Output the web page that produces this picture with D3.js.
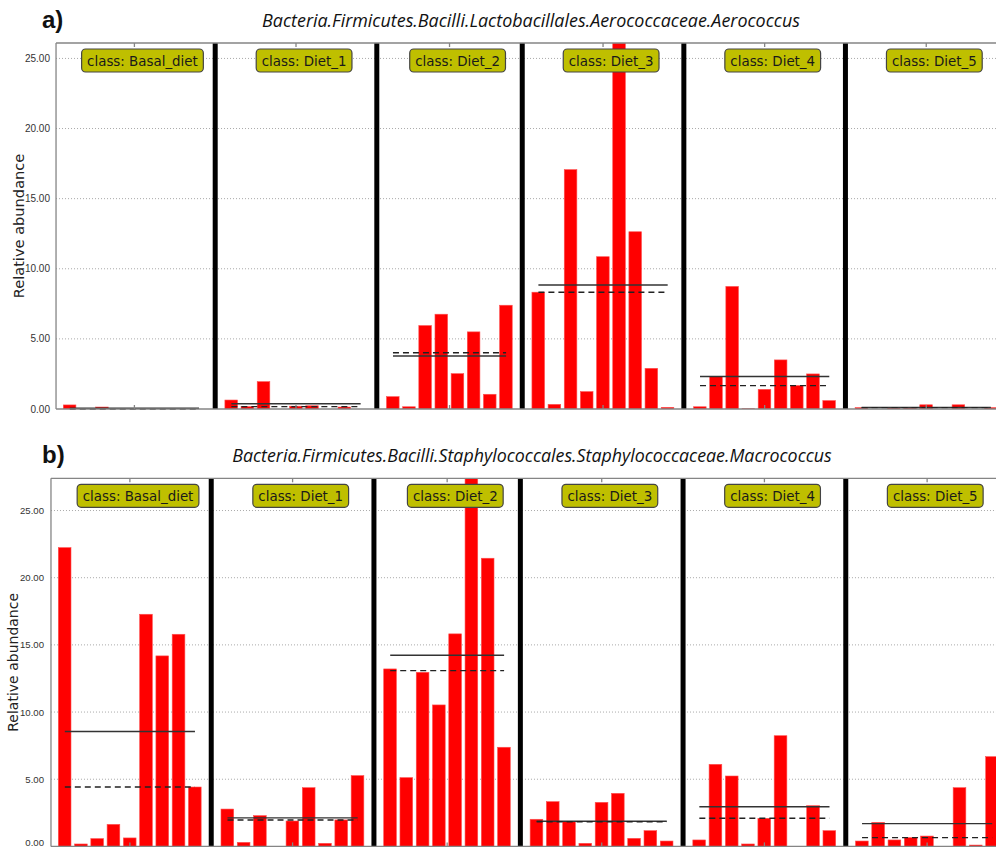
<!DOCTYPE html>
<html><head><meta charset="utf-8">
<script src="https://cdn.jsdelivr.net/npm/d3@7"></script>
<style>body{margin:0;background:#fff}svg{display:block}</style>
</head><body><svg id="c" width="996" height="848"></svg>
<script>
const classes = ["Basal_diet", "Diet_1", "Diet_2", "Diet_3", "Diet_4", "Diet_5"];
const yTicks = [0, 5, 10, 15, 20, 25];
const titleA = "Bacteria.Firmicutes.Bacilli.Lactobacillales.Aerococcaceae.Aerococcus";
const titleB = "Bacteria.Firmicutes.Bacilli.Staphylococcales.Staphylococcaceae.Macrococcus";
const yLabel = "Relative abundance";

// panel a) Aerococcus, relative abundance per sample, one array per class
const aeroBasal = [0.29, 0, 0.14, 0, 0, 0, 0.03, 0, 0];
const aeroDiet1 = [0.64, 0.17, 1.95, 0, 0.2, 0.23, 0, 0.14, 0];
const aeroDiet2 = [0.88, 0.16, 5.95, 6.76, 2.52, 5.5, 1.05, 7.4];
const aeroDiet3 = [8.33, 0.33, 17.07, 1.24, 10.86, 26.1, 12.64, 2.9, 0.12];
const aeroDiet4 = [0.16, 2.31, 8.74, 0.02, 1.4, 3.5, 1.67, 2.5, 0.6];
const aeroDiet5 = [0.1, 0, 0.1, 0.1, 0.3, 0, 0.3, 0, 0.1];

// panel b) Macrococcus
const macroBasal = [22.24, 0.18, 0.58, 1.64, 0.63, 17.28, 14.18, 15.79, 4.42];
const macroDiet1 = [2.78, 0.3, 2.29, 0, 1.89, 4.37, 0.23, 1.97, 5.27];
const macroDiet2 = [13.21, 5.12, 12.96, 10.53, 15.82, 27.4, 21.45, 7.38];
const macroDiet3 = [2.02, 3.33, 1.84, 0.23, 3.28, 3.95, 0.6, 1.17, 0.4];
const macroDiet4 = [0.48, 6.11, 5.24, 0.18, 2.09, 8.24, 0, 3.03, 1.17];
const macroDiet5 = [0.4, 1.79, 0.48, 0.65, 0.77, 0, 4.37, 0.1, 6.68];

const svg = d3.select("#c");

function panel(cfg) {
  const groups = cfg.groups;
  // slot layout: bars at integer slots, one empty slot between classes
  let start = 0;
  const layout = groups.map((vals, gi) => {
    const g = {cls: classes[gi], vals, first: start, last: start + vals.length - 1};
    start += vals.length + 1;
    return g;
  });
  const bars = [];
  layout.forEach(g => g.vals.forEach((v, i) => bars.push({slot: g.first + i, v})));
  const maxV = d3.max(bars, d => d.v);

  const x = d3.scaleLinear().domain([0, 57]).range([cfg.x0, cfg.x0 + 57 * cfg.slotW]);
  const y = d3.scaleLinear().domain([0, maxV]).range([cfg.bottom, cfg.top]);
  const left = x(-0.45), right = 1000;
  const bw = x(0.78) - x(0);

  const G = svg.append("g");
  const clipId = "clip" + cfg.id;
  G.append("clipPath").attr("id", clipId).append("rect")
    .attr("x", left).attr("y", cfg.top).attr("width", right - left).attr("height", cfg.bottom - cfg.top);

  // grid
  G.append("g").selectAll("line").data(yTicks.filter(t => t > 0)).join("line")
    .attr("x1", left).attr("x2", right).attr("y1", d => y(d)).attr("y2", d => y(d))
    .attr("stroke", "#a8a8a8").attr("stroke-width", 1).attr("stroke-dasharray", "1,2");

  // bars
  G.append("g").attr("clip-path", `url(#${clipId})`).selectAll("rect").data(bars).join("rect")
    .attr("x", d => x(d.slot)).attr("width", bw)
    .attr("y", d => y(d.v)).attr("height", d => Math.max(0, cfg.bottom - y(d.v)))
    .attr("fill", "#ff0000").attr("stroke", "#ff5050").attr("stroke-width", 0.6);

  // mean (solid) and median (dashed)
  layout.forEach(g => {
    const mean = d3.mean(g.vals), med = d3.median(g.vals);
    G.append("line").attr("x1", x(g.first + 0.4)).attr("x2", x(g.last + 0.4))
      .attr("y1", y(mean)).attr("y2", y(mean)).attr("stroke", "#333").attr("stroke-width", 1.4);
    G.append("line").attr("x1", x(g.first + 0.4)).attr("x2", x(g.last + 0.4))
      .attr("y1", y(med)).attr("y2", y(med)).attr("stroke", "#222").attr("stroke-width", 1.4)
      .attr("stroke-dasharray", "6,4");
  });

  // separators
  G.append("g").selectAll("line").data(layout.slice(0, -1)).join("line")
    .attr("x1", d => x(d.last + 1.4)).attr("x2", d => x(d.last + 1.4))
    .attr("y1", cfg.top).attr("y2", cfg.bottom)
    .attr("stroke", "#000").attr("stroke-width", 5);

  // frame
  const fr = G.append("g").attr("stroke", "#858585").attr("stroke-width", 1.3).attr("fill", "none");
  fr.append("line").attr("x1", left).attr("x2", left).attr("y1", cfg.top).attr("y2", cfg.bottom);
  fr.append("line").attr("x1", left).attr("x2", right).attr("y1", cfg.top).attr("y2", cfg.top);
  fr.append("line").attr("x1", left).attr("x2", right).attr("y1", cfg.bottom).attr("y2", cfg.bottom);

  // x ticks at class centres (top and bottom, inward)
  layout.forEach(g => {
    const cx = x((g.first + g.last) / 2 + 0.4);
    fr.append("line").attr("x1", cx).attr("x2", cx).attr("y1", cfg.top).attr("y2", cfg.top + 4);
    fr.append("line").attr("x1", cx).attr("x2", cx).attr("y1", cfg.bottom).attr("y2", cfg.bottom - 4);
  });

  // class label boxes
  layout.forEach(g => {
    const cx = x((g.first + g.last) / 2 + 0.9);
    const lg = G.append("g");
    const t = lg.append("text").attr("x", cx).attr("y", cfg.top + 6 + 16.5)
      .attr("text-anchor", "middle").attr("font-family", "DejaVu Sans")
      .attr("font-size", 13.4).attr("fill", "#1a1a1a").text("class: " + g.cls);
    const w = t.node().getComputedTextLength() + 11;
    lg.insert("rect", "text").attr("x", cx - w / 2).attr("y", cfg.top + 6)
      .attr("width", w).attr("height", 23).attr("rx", 4).attr("ry", 4)
      .attr("fill", "#bfbf00").attr("stroke", "#444").attr("stroke-width", 1.2);
  });

  // y tick labels
  G.append("g").selectAll("text").data(yTicks).join("text")
    .attr("x", cfg.tickRight).attr("y", d => Math.min(y(d) + 3.5, cfg.tickMaxY)).attr("text-anchor", "end")
    .attr("font-family", "Liberation Sans").attr("font-size", cfg.tickSize).attr("fill", "#333")
    .text(d => d3.format(".2f")(d));

  // y label
  G.append("text").attr("transform", `translate(${cfg.ylabX},${(cfg.top + cfg.bottom) / 2}) rotate(-90)`)
    .attr("text-anchor", "middle").attr("dy", "0.35em")
    .attr("font-family", "DejaVu Sans").attr("font-size", cfg.ylabSize).attr("fill", "#222").text(yLabel);

  // panel letter
  G.append("text").attr("x", cfg.letterX).attr("y", cfg.letterY)
    .attr("font-family", "Liberation Sans").attr("font-weight", "bold").attr("font-size", 24)
    .attr("fill", "#111").text(cfg.letter);

  // title, fitted to measured span
  const tt = G.append("text").attr("x", cfg.titleCx).attr("y", cfg.titleY).attr("text-anchor", "middle")
    .attr("font-family", "Open Sans").attr("font-style", "italic").attr("font-size", 16)
    .attr("fill", "#111").text(cfg.title);
  const tl = tt.node().getComputedTextLength();
  tt.attr("font-size", 16 * cfg.titleW / tl);
}

panel({
  id: "a", groups: [aeroBasal, aeroDiet1, aeroDiet2, aeroDiet3, aeroDiet4, aeroDiet5],
  x0: 63.3, slotW: 16.16, top: 43, bottom: 409,
  tickRight: 50, tickSize: 10, tickMaxY: 420, ylabX: 18.5, ylabSize: 14.6,
  letter: "a)", letterX: 42, letterY: 28,
  title: titleA, titleCx: 531, titleW: 538, titleY: 27
});
panel({
  id: "b", groups: [macroBasal, macroDiet1, macroDiet2, macroDiet3, macroDiet4, macroDiet5],
  x0: 58.3, slotW: 16.27, top: 478.3, bottom: 846.4,
  tickRight: 44, tickSize: 9.6, tickMaxY: 846, ylabX: 13, ylabSize: 14,
  letter: "b)", letterX: 42, letterY: 463,
  title: titleB, titleCx: 532, titleW: 600, titleY: 462
});
</script>
</body></html>
